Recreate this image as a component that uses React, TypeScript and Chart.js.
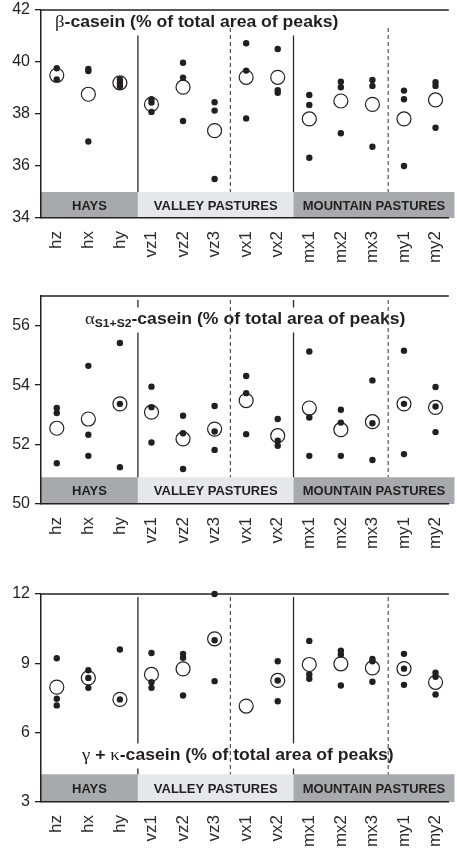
import React, { useEffect, useRef } from 'react';
import { Chart, registerables } from 'chart.js';

Chart.register(...registerables);

// ---------- data ----------
const categories = ['hz', 'hx', 'hy', 'vz1', 'vz2', 'vz3', 'vx1', 'vx2', 'mx1', 'mx2', 'mx3', 'my1', 'my2'];
const groupLabels = ['HAYS', 'VALLEY PASTURES', 'MOUNTAIN PASTURES'];

// beta-casein
const betaTicks = [34, 36, 38, 40, 42];
const betaMean = [39.49, 38.76, 39.2, 38.37, 39.03, 37.36, 39.41, 39.41, 37.81, 38.5, 38.37, 37.81, 38.54];
const betaFarmA = [39.76, 39.73, 39.33, 38.57, 39.97, 38.45, 40.72, 40.5, 38.73, 39.24, 39.31, 38.9, 39.22];
const betaFarmB = [39.33, 39.65, 39.2, 38.44, 39.4, 38.13, 39.67, 38.92, 38.35, 39.03, 39.08, 38.57, 39.08];
const betaFarmC = [null, 36.94, 39.07, 38.08, 37.73, 35.5, 37.83, 38.82, 36.32, 37.26, 36.74, 36.0, 37.47];

// alpha S1+S2 casein
const alphaTicks = [50, 52, 54, 56];
const alphaMean = [52.55, 52.86, 53.37, 53.09, 52.19, 52.52, 53.48, 52.3, 53.23, 52.5, 52.77, 53.37, 53.25];
const alphaFarmA = [53.23, 54.65, 55.42, 53.95, 52.97, 53.3, 54.31, 52.86, 55.13, 53.17, 54.16, 55.16, 53.94];
const alphaFarmB = [53.06, 52.33, 53.37, 53.26, 52.38, 52.44, 53.73, 52.13, 52.91, 52.74, 52.72, 53.37, 53.28];
const alphaFarmC = [51.37, 51.62, 51.24, 52.07, 51.18, 51.82, 52.35, 51.96, 51.62, 51.62, 51.48, 51.68, 52.42];

// gamma + kappa casein
const gammaTicks = [3, 6, 9, 12];
const gammaMean = [7.97, 8.37, 7.44, 8.52, 8.76, 10.06, 7.15, 8.26, 8.95, 8.98, 8.8, 8.77, 8.18];
const gammaFarmA = [9.22, 8.7, 9.6, 9.45, 9.41, 12.0, null, 9.09, 9.97, 9.55, 9.19, 9.41, 8.59];
const gammaFarmB = [7.47, 8.37, 7.44, 8.18, 9.24, 10.0, null, 8.26, 8.52, 9.38, 9.09, 8.77, 8.42];
const gammaFarmC = [7.18, 7.94, null, 7.94, 7.61, 8.23, null, 7.36, 8.33, 8.04, 8.2, 8.07, 7.65];

// group separators (in category units)
const groupBounds = [-0.5, 2.57, 7.5, 12.6];
const solidSeparators = [2.57, 7.5];
const dashedSeparators = [5.5, 10.5];

// ---------- styles ----------
const INK = '#231f20';
const SANS = '"Liberation Sans", Arial, Helvetica, sans-serif';
const SERIF = '"Liberation Serif", "DejaVu Serif", serif';
const TITLE_BOLD = `bold 16px ${SANS}`;
const GREEK = `17px ${SERIF}`;

type Part = { text: string; font: string; dy?: number };

const titleTail = '-casein (% of total area of peaks)';

const panels = [
  {
    key: 'beta',
    top: 0,
    height: 272,
    padTop: 10,
    xAxisH: 54,
    yMin: 34,
    yMax: 42,
    ticks: betaTicks,
    mean: betaMean,
    farms: [betaFarmA, betaFarmB, betaFarmC],
    bandTop: 35.0,
    lineTop: 18,
    titleX: 55,
    titleY: 23,
    title: [
      { text: 'β', font: GREEK },
      { text: titleTail, font: TITLE_BOLD },
    ] as Part[],
  },
  {
    key: 'alpha',
    top: 280,
    height: 272,
    padTop: 16,
    xAxisH: 48,
    yMin: 50,
    yMax: 57,
    ticks: alphaTicks,
    mean: alphaMean,
    farms: [alphaFarmA, alphaFarmB, alphaFarmC],
    bandTop: 50.9,
    lineTop: 4,
    titleX: 85,
    titleY: 40,
    title: [
      { text: 'α', font: GREEK },
      { text: 'S1+S2', font: `bold 11px ${SANS}`, dy: 4 },
      { text: titleTail, font: TITLE_BOLD },
    ] as Part[],
  },
  {
    key: 'gamma',
    top: 560,
    height: 288,
    padTop: 34,
    xAxisH: 46,
    yMin: 3,
    yMax: 12,
    ticks: gammaTicks,
    mean: gammaMean,
    farms: [gammaFarmA, gammaFarmB, gammaFarmC],
    bandTop: 4.2,
    lineTop: 3,
    titleX: 82,
    titleY: 196,
    title: [
      { text: 'γ', font: GREEK },
      { text: ' + ', font: TITLE_BOLD },
      { text: 'κ', font: GREEK },
      { text: titleTail, font: TITLE_BOLD },
    ] as Part[],
  },
];

type PanelCfg = (typeof panels)[number];

function drawTitle(ctx: CanvasRenderingContext2D, parts: Part[], x0: number, yc: number) {
  const sx = 1.1;
  ctx.save();
  ctx.textBaseline = 'middle';
  ctx.textAlign = 'left';
  let w = 0;
  for (const p of parts) {
    ctx.font = p.font;
    w += ctx.measureText(p.text).width;
  }
  ctx.fillStyle = '#ffffff';
  ctx.fillRect(x0 - 2, yc - 12.5, w * sx + 4, 25);
  ctx.translate(x0, yc);
  ctx.scale(sx, 1);
  let cx = 0;
  ctx.fillStyle = INK;
  for (const p of parts) {
    ctx.font = p.font;
    ctx.fillText(p.text, cx, p.dy || 0);
    cx += ctx.measureText(p.text).width;
  }
  ctx.restore();
}

function makeDecor(p: PanelCfg) {
  return {
    id: 'decor_' + p.key,
    beforeDraw(chart: any) {
      const { ctx, chartArea: a, scales } = chart;
      const x = scales.x;
      const y = scales.y;
      ctx.save();
      const bandTop = y.getPixelForValue(p.bandTop);
      const bottom = a.bottom;
      // group bands
      for (let i = 0; i < 3; i++) {
        const x0 = x.getPixelForValue(groupBounds[i]);
        const x1 = x.getPixelForValue(groupBounds[i + 1]);
        ctx.fillStyle = i === 1 ? '#e6e7e8' : '#a7a9ac';
        ctx.fillRect(x0, bandTop, x1 - x0, bottom - bandTop);
        ctx.fillStyle = INK;
        ctx.font = `bold 13px ${SANS}`;
        ctx.textAlign = 'center';
        ctx.textBaseline = 'middle';
        ctx.fillText(groupLabels[i], (x0 + x1) / 2, (bandTop + bottom) / 2 + 1);
      }
      const lineTop = a.top + p.lineTop;
      // solid separators
      ctx.strokeStyle = '#2a2a2a';
      ctx.lineWidth = 1.3;
      ctx.setLineDash([]);
      for (const s of solidSeparators) {
        const px = x.getPixelForValue(s);
        ctx.beginPath();
        ctx.moveTo(px, lineTop);
        ctx.lineTo(px, bandTop);
        ctx.stroke();
      }
      // title
      drawTitle(ctx, p.title, p.titleX, p.titleY);
      // dashed separators
      ctx.strokeStyle = '#555555';
      ctx.lineWidth = 1.2;
      ctx.setLineDash([4, 3]);
      for (const s of dashedSeparators) {
        const px = x.getPixelForValue(s);
        ctx.beginPath();
        ctx.moveTo(px, lineTop);
        ctx.lineTo(px, bandTop);
        ctx.stroke();
      }
      ctx.setLineDash([]);
      // top frame line
      ctx.strokeStyle = INK;
      ctx.lineWidth = 1.5;
      ctx.beginPath();
      ctx.moveTo(a.left, a.top);
      ctx.lineTo(a.right, a.top);
      ctx.stroke();
      ctx.restore();
    },
  };
}

function toPoints(vals: (number | null)[]) {
  return vals.map((v, i) => ({ x: i, y: v as any }));
}

function Panel({ p }: { p: PanelCfg }) {
  const ref = useRef<HTMLCanvasElement | null>(null);
  useEffect(() => {
    if (!ref.current) return;
    const dotSets = p.farms.map((f, k) => ({
      label: 'farm ' + (k + 1),
      data: toPoints(f),
      pointRadius: 3.2,
      pointBackgroundColor: INK,
      pointBorderWidth: 0,
      showLine: false,
      clip: false as any,
    }));
    const meanSet = {
      label: 'mean',
      data: toPoints(p.mean),
      pointRadius: 7,
      pointBackgroundColor: 'rgba(0,0,0,0)',
      pointBorderColor: INK,
      pointBorderWidth: 1.2,
      showLine: false,
      clip: false as any,
    };
    const chart = new Chart(ref.current, {
      type: 'scatter',
      data: { datasets: [...dotSets, meanSet] as any },
      options: {
        animation: false,
        responsive: false,
        devicePixelRatio: 1,
        events: [],
        layout: { padding: { top: p.padTop, left: 0, right: 0, bottom: 0 } },
        plugins: { legend: { display: false }, tooltip: { enabled: false } },
        scales: {
          x: {
            type: 'linear',
            min: -0.5,
            max: 12.42,
            grid: { display: false, drawTicks: false },
            border: { display: true, color: INK, width: 1.5 },
            ticks: {
              minRotation: 90,
              maxRotation: 90,
              padding: 13,
              color: '#2b2b2b',
              font: { family: SANS, size: 17 },
              callback: (v: any) => categories[Math.round(Number(v))] ?? '',
            },
            afterBuildTicks: (scale: any) => {
              scale.ticks = categories.map((_, i) => ({ value: i }));
            },
            afterFit: (scale: any) => {
              scale.height = p.xAxisH;
              scale.paddingLeft = 0;
              scale.paddingRight = 0;
            },
          },
          y: {
            type: 'linear',
            min: p.yMin,
            max: p.yMax,
            grid: {
              display: true,
              drawOnChartArea: false,
              drawTicks: true,
              tickLength: 6,
              color: INK,
              lineWidth: 1.3,
            },
            border: { display: true, color: INK, width: 1.5 },
            ticks: {
              padding: 5,
              color: INK,
              font: { family: SANS, size: 16 },
            },
            afterBuildTicks: (scale: any) => {
              scale.ticks = p.ticks.map((v) => ({ value: v }));
            },
            afterFit: (scale: any) => {
              scale.width = 41;
              scale.paddingTop = 0;
              scale.paddingBottom = 0;
            },
          },
        },
      },
      plugins: [makeDecor(p)],
    });
    return () => chart.destroy();
  }, []);
  return (
    <canvas
      ref={ref}
      width={457}
      height={p.height}
      style={{ position: 'absolute', left: 0, top: p.top, width: 457, height: p.height, display: 'block' }}
    />
  );
}

export default function App() {
  return (
    <div style={{ position: 'absolute', left: 0, top: 0, width: 457, height: 848, background: '#ffffff', overflow: 'hidden' }}>
      {panels.map((p) => (
        <Panel key={p.key} p={p} />
      ))}
    </div>
  );
}
